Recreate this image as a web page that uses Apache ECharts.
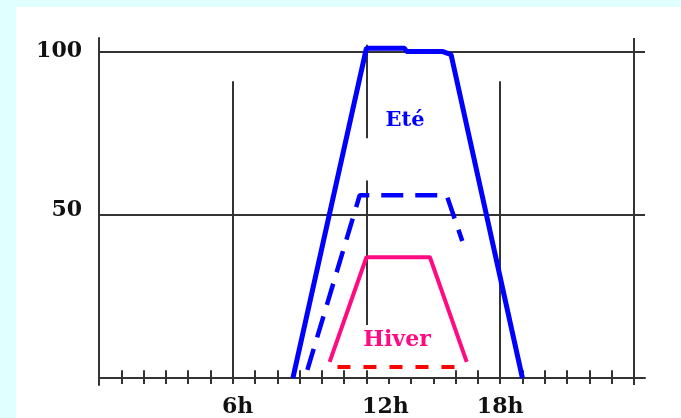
<!DOCTYPE html>
<html>
<head>
<meta charset="utf-8">
<script src="https://cdn.jsdelivr.net/npm/echarts@6/dist/echarts.min.js"></script>
<style>
html,body{margin:0;padding:0;background:#e0ffff;}
#c{width:681px;height:418px;}
</style>
</head>
<body>
<div id="c"></div>
<script>
// ---- data ----
const eteSolid = [[8.7, 0], [12.0, 101], [13.7, 101], [13.8, 100], [15.4, 100], [15.8, 99], [19.0, 0]];
const eteDashed = [[9.35, 2.5], [11.7, 56], [15.6, 56], [16.3, 42]];
const hiverSolid = [[10.35, 5], [12.0, 37], [14.85, 37], [16.5, 5]];
const hiverDashed = [[10.7, 3.4], [16.0, 3.4]];
const xLabelValues = [6, 12, 18];
const yLabelValues = [50, 100];
const tickHours = [1,2,3,4,5,6,7,8,9,10,11,12,13,14,15,16,17,18,19,20,21,22,23,24];
const shortTickHours = [13, 14, 15];
const labelEte = {text: 'Eté', at: [13.73, 78.8]};
const labelHiver = {text: 'Hiver', at: [13.37, 11.7]};
// vertical guide segments [hour, yFrom, yTo]
const verticalGuides = [[6, 90.9, -1.5], [12, 102, 73.4], [12, 60.5, 16.3], [18, 90.9, -1.5], [24, 104.1, -2.1]];
const horizontalGuides = [50, 100];

const FONT = 'DejaVu Serif';
const GREY = '#333333';

const tickLines = tickHours.map(h => [
  {coord: [h, shortTickHours.indexOf(h) >= 0 ? 0 : 2.4]},
  {coord: [h, -1.8]}
]);
const guideLines = verticalGuides.map(g => [{coord: [g[0], g[1]]}, {coord: [g[0], g[2]]}]);
const hLines = horizontalGuides.map(v => ({yAxis: v}));

const chart = echarts.init(document.getElementById('c'), null, {renderer: 'canvas'});
chart.setOption({
  animation: false,
  backgroundColor: '#e0ffff',
  graphic: [{
    type: 'rect', left: 16, top: 7, z: -10,
    shape: {width: 665, height: 411},
    style: {fill: '#ffffff'}
  }],
  grid: {left: 99, right: 36, top: 38, bottom: 27},
  xAxis: {
    type: 'value', min: 0, max: 24.5,
    axisLine: {show: true, onZero: true, lineStyle: {color: GREY, width: 2}},
    axisTick: {show: false},
    splitLine: {show: false},
    axisLabel: {
      customValues: xLabelValues,
      margin: 11,
      formatter: v => '{l' + v + '|' + v + 'h}',
      rich: {
        l6: {fontFamily: FONT, fontWeight: 'bold', fontSize: 22, color: '#111', padding: [0, 0, 0, 10]},
        l12: {fontFamily: FONT, fontWeight: 'bold', fontSize: 22, color: '#111', padding: [0, 0, 0, 38]},
        l18: {fontFamily: FONT, fontWeight: 'bold', fontSize: 22, color: '#111', padding: [0, 0, 0, 0]}
      }
    }
  },
  yAxis: {
    type: 'value', min: -2.1, max: 104.1,
    axisLine: {show: true, onZero: false, lineStyle: {color: GREY, width: 2}},
    axisTick: {show: false},
    splitLine: {show: false},
    axisLabel: {
      customValues: yLabelValues,
      margin: 17,
      formatter: v => '{y' + v + '|' + v + '}',
      rich: {
        y50: {fontFamily: FONT, fontWeight: 'bold', fontSize: 22, color: '#111', padding: [0, 0, 8, 0]},
        y100: {fontFamily: FONT, fontWeight: 'bold', fontSize: 22, color: '#111', padding: [0, 0, 0, 0]}
      }
    }
  },
  series: [
    {
      type: 'line', data: [], silent: true, z: 1,
      markLine: {
        silent: true, symbol: ['none', 'none'], animation: false,
        label: {show: false},
        lineStyle: {color: GREY, width: 2, type: 'solid'},
        emphasis: {disabled: true},
        data: hLines.concat(guideLines).concat(tickLines)
      }
    },
    {
      name: 'Eté', type: 'line', data: eteSolid, symbol: 'none', z: 5,
      lineStyle: {color: '#0000ff', width: 5},
      markPoint: {
        symbol: 'rect', symbolSize: 1, itemStyle: {color: 'rgba(0,0,0,0)'},
        label: {show: true, position: 'inside', formatter: labelEte.text,
          fontFamily: FONT, fontWeight: 'bold', fontSize: 21, color: '#0000ff'},
        data: [{coord: labelEte.at}]
      }
    },
    {
      name: 'Eté (pointillé)', type: 'line', data: eteDashed, symbol: 'none', z: 5,
      lineStyle: {color: '#0000ff', width: 4.5, type: [22, 12]}
    },
    {
      name: 'Hiver', type: 'line', data: hiverSolid, symbol: 'none', z: 5,
      lineStyle: {color: '#ff0a80', width: 4},
      markPoint: {
        symbol: 'rect', symbolSize: 1, itemStyle: {color: 'rgba(0,0,0,0)'},
        label: {show: true, position: 'inside', formatter: labelHiver.text,
          fontFamily: FONT, fontWeight: 'bold', fontSize: 22, color: '#ff0a80'},
        data: [{coord: labelHiver.at}]
      }
    },
    {
      name: 'Hiver (pointillé)', type: 'line', data: hiverDashed, symbol: 'none', z: 5,
      lineStyle: {color: '#ff0000', width: 4, type: [13, 13]}
    }
  ]
});
</script>
</body>
</html>
